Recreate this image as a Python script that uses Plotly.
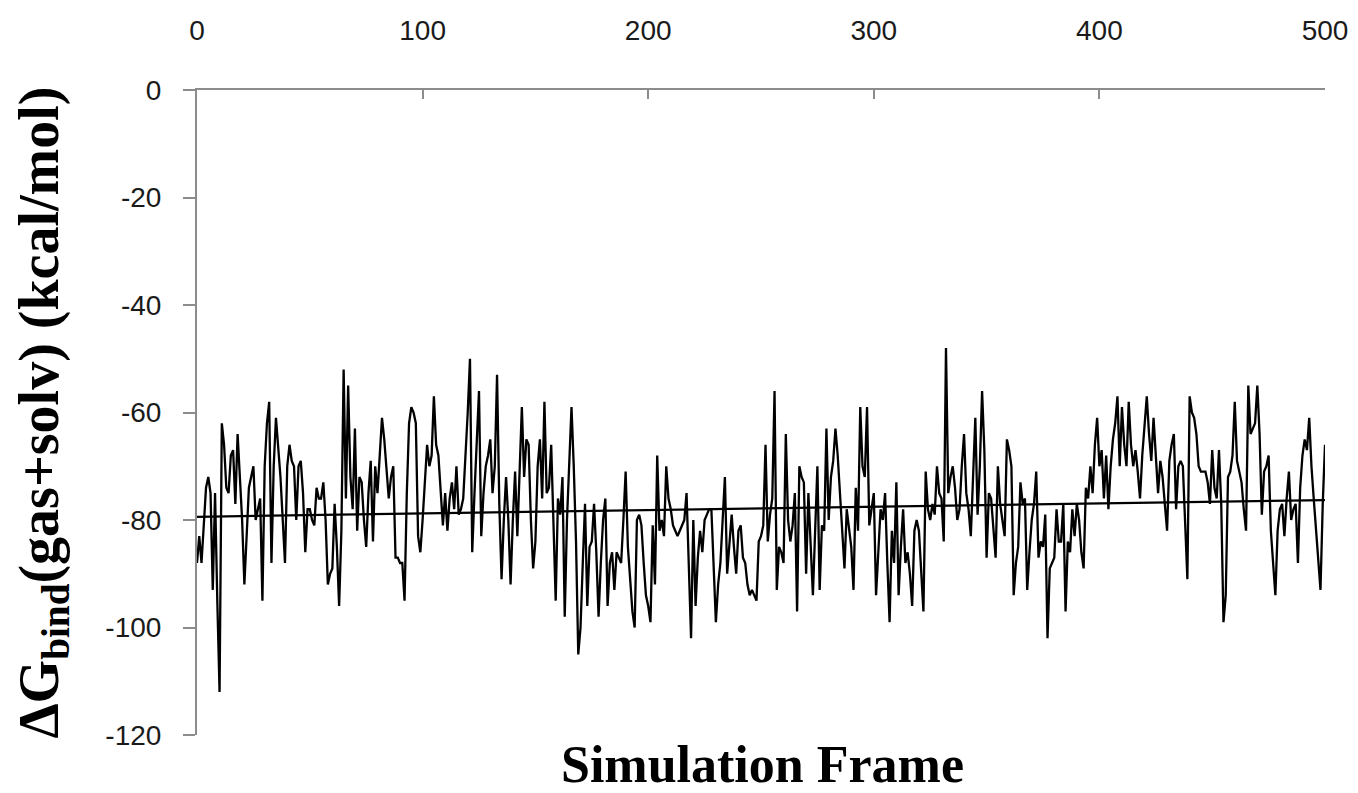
import plotly.graph_objects as go

frames = list(range(0, 501))

delta_g = [
    -88, -83, -88, -80, -74, -72, -75, -93, -75, -95,
    -112, -62, -66, -74, -75, -68, -67, -77, -64, -72,
    -80, -92, -84, -74, -72, -70, -80, -78, -76, -95,
    -70, -62, -58, -88, -70, -61, -67, -72, -80, -88,
    -70, -66, -69, -70, -80, -70, -69, -75, -86, -78,
    -78, -80, -81, -74, -76, -76, -73, -80, -92, -90,
    -89, -77, -85, -96, -82, -52, -76, -55, -72, -78,
    -63, -82, -72, -73, -80, -85, -75, -69, -84, -70,
    -75, -68, -61, -65, -70, -76, -72, -70, -87, -87,
    -88, -88, -95, -75, -62, -59, -60, -62, -83, -86,
    -80, -72, -66, -70, -68, -57, -66, -68, -75, -81,
    -75, -82, -76, -73, -78, -70, -79, -78, -76, -69,
    -60, -50, -86, -75, -66, -56, -83, -75, -70, -68,
    -65, -75, -70, -53, -77, -91, -80, -72, -80, -92,
    -80, -71, -83, -70, -59, -72, -65, -66, -80, -89,
    -84, -70, -65, -76, -58, -75, -74, -66, -80, -95,
    -76, -79, -72, -98, -80, -70, -59, -70, -84, -105,
    -100, -88, -77, -96, -85, -84, -77, -86, -98, -88,
    -80, -76, -96, -88, -86, -93, -86, -87, -88, -80,
    -71, -85, -92, -97, -100, -80, -79, -81, -88, -94,
    -96, -99, -81, -92, -68, -82, -80, -83, -70, -76,
    -78, -81, -82, -83, -82, -81, -80, -75, -88, -102,
    -80, -96, -87, -82, -86, -80, -79, -78, -78, -90,
    -99, -92, -88, -80, -72, -90, -84, -79, -85, -90,
    -82, -81, -87, -88, -92, -94, -93, -94, -95, -84,
    -83, -81, -66, -84, -79, -76, -56, -93, -85, -86,
    -88, -64, -80, -84, -81, -75, -97, -70, -72, -73,
    -90, -75, -85, -94, -82, -70, -93, -81, -82, -63,
    -80, -72, -69, -63, -68, -75, -80, -89, -78, -82,
    -85, -93, -74, -82, -59, -70, -72, -59, -81, -78,
    -75, -94, -86, -78, -80, -75, -88, -99, -82, -88,
    -73, -94, -85, -78, -88, -86, -90, -96, -82, -80,
    -82, -91, -97, -71, -78, -80, -77, -79, -70, -75,
    -76, -84, -48, -75, -72, -70, -74, -80, -78, -70,
    -64, -75, -78, -83, -72, -61, -79, -70, -56, -67,
    -87, -75, -76, -81, -87, -70, -77, -80, -83, -65,
    -67, -70, -94, -88, -85, -73, -77, -76, -93, -86,
    -80, -77, -71, -87, -84, -85, -79, -102, -89, -88,
    -87, -78, -84, -84, -77, -97, -84, -86, -78, -83,
    -77, -80, -86, -89, -74, -76, -70, -75, -66, -61,
    -70, -67, -76, -68, -78, -70, -65, -62, -57, -70,
    -59, -66, -70, -58, -66, -70, -67, -71, -76, -68,
    -62, -57, -64, -69, -61, -68, -75, -69, -72, -77,
    -82, -69, -66, -64, -78, -70, -69, -70, -80, -91,
    -57, -60, -61, -64, -70, -71, -71, -71, -73, -77,
    -67, -74, -76, -67, -77, -99, -94, -72, -71, -68,
    -58, -69, -71, -73, -78, -82, -55, -64, -63, -62,
    -55, -64, -79, -71, -70, -68, -82, -88, -94, -82,
    -78, -77, -83, -76, -71, -80, -78, -77, -88, -74,
    -68, -65, -67, -61, -70, -76, -82, -88, -93, -77,
    -66,
]

trend_frames = [0, 500]
trend_values = [-79.4, -76.3]

x_ticks = [0, 100, 200, 300, 400, 500]
x_tick_labels = ["0", "100", "200", "300", "400", "500"]
y_ticks = [0, -20, -40, -60, -80, -100, -120]
y_tick_labels = ["0", "-20", "-40", "-60", "-80", "-100", "-120"]

fig = go.Figure()
fig.add_trace(go.Scatter(x=frames, y=delta_g, mode="lines",
                         line=dict(color="black", width=2.3), showlegend=False))
fig.add_trace(go.Scatter(x=trend_frames, y=trend_values, mode="lines",
                         line=dict(color="black", width=2.2), showlegend=False))

axis_color = "#8c8c8c"
tick_font = dict(family="Liberation Sans, Arial, sans-serif", size=28, color="#1a1a1a")
serif = "Liberation Serif, Times New Roman, serif"

fig.update_layout(
    width=1350, height=785,
    margin=dict(l=189, r=33, t=82, b=58),
    paper_bgcolor="white", plot_bgcolor="white",
    xaxis=dict(range=[0, 500], side="top", tickvals=x_ticks, ticktext=x_tick_labels,
               showgrid=False, zeroline=False, showline=True, automargin=False,
               linecolor=axis_color, linewidth=2,
               ticks="inside", ticklen=9, tickcolor=axis_color, tickwidth=2,
               tickfont=tick_font, ticklabelstandoff=37),
    yaxis=dict(range=[-120, 0], tickvals=y_ticks, ticktext=y_tick_labels,
               showgrid=False, zeroline=False, showline=True, automargin=False,
               linecolor=axis_color, linewidth=2,
               ticks="outside", ticklen=12, tickcolor=axis_color, tickwidth=2,
               tickfont=tick_font, ticklabelstandoff=16),
    annotations=[
        dict(text="<b>ΔG<sub>bind</sub>(gas+solv) (kcal/mol)</b>", xref="paper", yref="paper",
             x=-0.1374, y=0.5, xanchor="center", yanchor="middle", textangle=-90,
             showarrow=False, font=dict(family=serif, size=56, color="black")),
        dict(text="<b>Simulation Frame</b>", xref="paper", yref="paper",
             x=0.501, y=-0.0465, xanchor="center", yanchor="middle", showarrow=False,
             font=dict(family=serif, size=52, color="black")),
    ],
)

fig.write_html("out.html")
